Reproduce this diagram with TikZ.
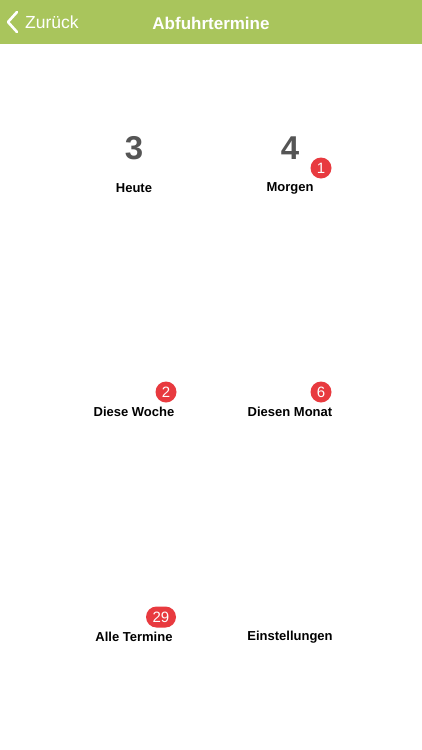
\documentclass[tikz,border=0pt]{standalone}
\usepackage{fontspec}
\setmainfont{Liberation Sans}
\usetikzlibrary{shapes.misc}
\definecolor{hdr}{HTML}{A9C55C}
\definecolor{badgered}{HTML}{E83A3F}
\definecolor{numgray}{HTML}{555555}
\begin{document}
\begin{tikzpicture}[x=1pt,y=-1pt,
  lbl/.style={font=\bfseries\fontsize{13}{16}\selectfont, text=black, inner sep=0pt},
  num/.style={font=\bfseries\fontsize{33}{36}\selectfont, text=numgray, inner sep=0pt},
  badge/.style={circle, fill=badgered, text=white, inner sep=0pt, minimum size=21pt, font=\fontsize{15}{16}\selectfont},
  pill/.style={rounded rectangle, fill=badgered, text=white, inner sep=0pt, minimum height=21pt, minimum width=30pt, font=\fontsize{15}{16}\selectfont}]
\useasboundingbox (0,0) rectangle (422,750);
\fill[white] (0,0) rectangle (422,750);
\fill[hdr] (0,0) rectangle (422,44);
\node[font=\bfseries\fontsize{17}{20}\selectfont, text=white, inner sep=0pt] (title) at (211,23) {Abfuhrtermine};
\coordinate (chevtop) at (17,12);
\coordinate (chevmid) at (8,22);
\coordinate (chevbot) at (17,32);
\draw[white, line width=2.6pt, line cap=round, line join=round] (chevtop) -- (chevmid) -- (chevbot);
\node[font=\fontsize{17.5}{20}\selectfont, text=white, inner sep=0pt, anchor=west] (back) at (25,22) {Zurück};

\node[num] (n3) at (134,148) {3};
\node[num] (n4) at (290,148) {4};
\node[lbl] (heute) at (134,188) {Heute};
\node[lbl] (morgen) at (290,188) {Morgen};
\node[badge] (b1) at (321,168) {1};

\node[lbl] (woche) at (134,412) {Diese Woche};
\node[lbl] (monat) at (290,412) {Diesen Monat};
\node[badge] (b2) at (166,392) {2};
\node[badge] (b6) at (321,392) {6};

\node[lbl] (alle) at (134,637) {Alle Termine};
\node[lbl] (einst) at (290,637) {Einstellungen};
\node[pill] (b29) at (161,617) {29};
\end{tikzpicture}
\end{document}
